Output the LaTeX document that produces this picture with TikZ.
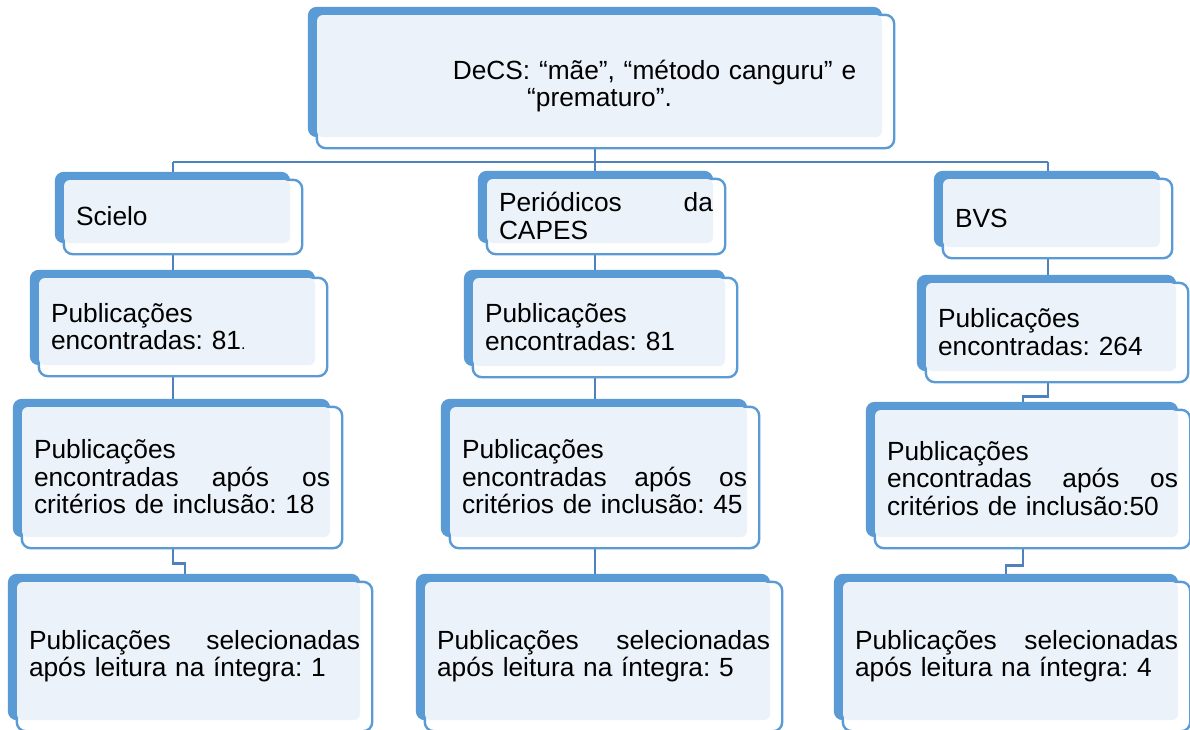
\documentclass[tikz,border=0pt]{standalone}
\usepackage{fontspec}
\setmainfont{Liberation Sans}
\usetikzlibrary{calc,backgrounds}

\definecolor{boxblue}{HTML}{5B9BD5}
\definecolor{boxfill}{HTML}{EBF2F9}
\definecolor{linkblue}{HTML}{4F81BD}

\tikzset{
  boxbase/.style 2 args={rectangle, rounded corners=6pt, fill=boxfill,
    inner xsep=0pt, inner ysep=0pt, minimum width=#1pt, minimum height=#2pt,
    text width=#1pt, font=\fontsize{26.3}{27.5}\selectfont\frenchspacing},
  flowbox/.style 2 args={boxbase={#1}{#2}, align=left,
    execute at begin node={\leftskip=12pt\rule{0pt}{29pt}}},
  topbox/.style 2 args={boxbase={#1}{#2}, align=center,
    execute at begin node={\rule{0pt}{39pt}}},
  backfill/.style={fill=boxblue, rounded corners=9pt},
  frame/.style={draw=boxblue, fill=white, line width=2.4pt, rounded corners=9pt},
  link/.style={draw=linkblue, line width=2.6pt}
}

\begin{document}
\begin{tikzpicture}[x=1pt, y=-1pt]
\useasboundingbox (0,0) rectangle (1190,729);

% search terms
\node[topbox={565}{122}] (decs) at (599.5,76)
  {\hspace*{110pt}DeCS: “mãe”, “método canguru” e\\“prematuro”.};

% Scielo column
\node[flowbox={226}{63}] (scielo) at (177,211.5) {Scielo};
\node[flowbox={276}{87}] (scielopub) at (177,321.5)
  {Publicações\\encontradas: 81{\fontsize{16}{16}\selectfont.}};
\node[flowbox={308}{130}] (scielocrit) at (176,472)
  {Publicações\\encontradas\hfill após\hfill os\\critérios de inclusão: 18};
\node[flowbox={343}{138}] (scielosel) at (188.5,651)
  {Publicações\hfill selecionadas\\após leitura na íntegra: 1};

% CAPES column
\node[flowbox={226}{64}] (capes) at (600,211) {Periódicos\hfill da\\CAPES};
\node[flowbox={252}{88}] (capespub) at (599,322)
  {Publicações\\encontradas: 81};
\node[flowbox={297}{130}] (capescrit) at (598.5,472)
  {Publicações\\encontradas\hfill após\hfill os\\critérios de inclusão: 45};
\node[flowbox={345}{138}] (capessel) at (597.5,651)
  {Publicações\hfill selecionadas\\após leitura na íntegra: 5};

% BVS column
\node[flowbox={217}{68}] (bvs) at (1051.5,213) {BVS};
\node[flowbox={250}{88}] (bvspub) at (1051,327)
  {Publicações\\encontradas: 264};
\node[flowbox={303}{127}] (bvscrit) at (1026.5,473.5)
  {Publicações\\encontradas\hfill após\hfill os\\critérios de inclusão:50};
\node[flowbox={335}{138}] (bvssel) at (1010.5,651)
  {Publicações\hfill selecionadas\\após leitura na íntegra: 4};

\coordinate (hub) at (595,162);
\coordinate (colA) at (173,0);
\coordinate (colB) at (595,0);
\coordinate (colC) at (1048,0);
\coordinate (jogA) at (185,0);
\coordinate (jogC) at (1023,0);
\coordinate (jogD) at (1006,0);

\begin{scope}[on background layer]
  % connectors
  \draw[link] (decs.south -| hub) -- (hub);
  \draw[link] (hub -| colA) -- (hub -| colC);
  \foreach \n/\c in {scielo/colA, capes/colB, bvs/colC}
    \draw[link] (hub -| \c) -- (\n.north -| \c);
  \draw[link] (scielo.south -| colA) -- (scielopub.north -| colA);
  \draw[link] (scielopub.south -| colA) -- (scielocrit.north -| colA);
  \draw[link] (scielocrit.south -| colA) -- ++(0,26) -| (jogA |- scielosel.north);
  \draw[link] (capes.south -| colB) -- (capespub.north -| colB);
  \draw[link] (capespub.south -| colB) -- (capescrit.north -| colB);
  \draw[link] (capescrit.south -| colB) -- (capessel.north -| colB);
  \draw[link] (bvs.south -| colC) -- (bvspub.north -| colC);
  \draw[link] (bvspub.south -| colC) -- ++(0,25) -| (jogC |- bvscrit.north);
  \draw[link] (bvscrit.south -| jogC) -- ++(0,28) -| (jogD |- bvssel.north);
  % shaded back and outlined front of each box
  \foreach \n in {decs, scielo, scielopub, scielocrit, scielosel,
                  capes, capespub, capescrit, capessel,
                  bvs, bvspub, bvscrit, bvssel} {
    \fill[backfill] ($(\n.north west)+(-9,-8)$) rectangle (\n.south east);
    \draw[frame] (\n.north west) rectangle ($(\n.south east)+(12,11)$);
  }
\end{scope}
\end{tikzpicture}
\end{document}
